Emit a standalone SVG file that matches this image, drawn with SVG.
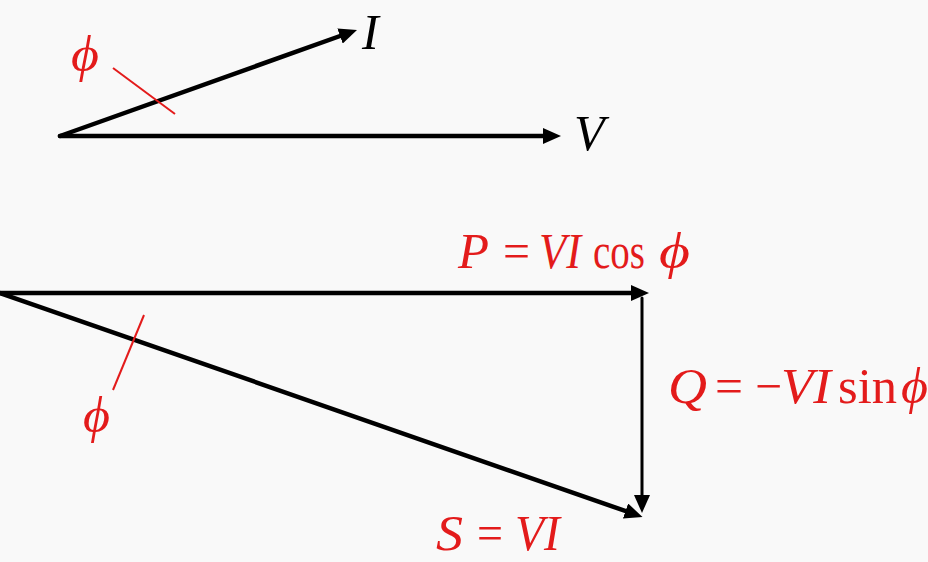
<svg xmlns="http://www.w3.org/2000/svg" width="928" height="562" viewBox="0 0 928 562">
  <style>
    .vec { stroke: #000; stroke-width: 4.5; fill: none; stroke-linecap: round; }
    .thin { stroke-width: 3; }
    .tick { stroke: #e31b1b; stroke-width: 2; fill: none; }
    .lbl { font-family: "Liberation Serif", "DejaVu Serif", serif; font-size: 50px; fill: #e31b1b; }
    .blk { fill: #000; }
    .it { font-style: italic; }
  </style>
  <defs>
    <marker id="ah" markerUnits="userSpaceOnUse" viewBox="0 0 18 16" refX="9" refY="8" markerWidth="18" markerHeight="16" orient="auto">
      <path d="M0,0 L18,8 L0,16 z" fill="#000"/>
    </marker>
  </defs>
  <rect width="928" height="562" fill="#f9f9f9"/>

  <g id="connectors">
    <line class="vec" x1="60" y1="136" x2="348.5" y2="33" marker-end="url(#ah)"/>
    <line class="vec" x1="60" y1="136" x2="552" y2="136" marker-end="url(#ah)"/>
    <line class="vec" x1="0" y1="293" x2="640" y2="293" marker-end="url(#ah)"/>
    <line class="vec" x1="0" y1="293" x2="634" y2="514" marker-end="url(#ah)"/>
    <line class="vec thin" x1="642" y1="298" x2="642" y2="504" marker-end="url(#ah)"/>
    <line class="tick" x1="113" y1="68" x2="175" y2="114"/>
    <line class="tick" x1="144" y1="315" x2="113" y2="390"/>
  </g>

  <g id="label-I">
    <text class="lbl blk it" x="362" y="49">I</text>
  </g>
  <g id="label-V">
    <text class="lbl blk it" x="574" y="150">V</text>
  </g>
  <g id="label-phi-top">
    <text class="lbl it" x="71" y="71" textLength="28" lengthAdjust="spacingAndGlyphs">ϕ</text>
  </g>
  <g id="label-phi-bottom">
    <text class="lbl it" x="83" y="432" textLength="27" lengthAdjust="spacingAndGlyphs">ϕ</text>
  </g>
  <g id="label-P">
    <text class="lbl it" x="458" y="268" textLength="31" lengthAdjust="spacingAndGlyphs">P</text>
    <text class="lbl" x="503" y="268" textLength="27" lengthAdjust="spacingAndGlyphs">=</text>
    <text class="lbl it" x="539" y="268" textLength="42" lengthAdjust="spacingAndGlyphs">VI</text>
    <text class="lbl" x="593" y="268" textLength="52" lengthAdjust="spacingAndGlyphs">cos</text>
    <text class="lbl it" x="659" y="268" textLength="31" lengthAdjust="spacingAndGlyphs">ϕ</text>
  </g>
  <g id="label-Q">
    <text class="lbl it" x="668" y="403" textLength="39" lengthAdjust="spacingAndGlyphs">Q</text>
    <text class="lbl" x="715" y="403" textLength="28" lengthAdjust="spacingAndGlyphs">=</text>
    <text class="lbl" x="755" y="403" textLength="27" lengthAdjust="spacingAndGlyphs">−</text>
    <text class="lbl it" x="781" y="403" textLength="50" lengthAdjust="spacingAndGlyphs">VI</text>
    <text class="lbl" x="838" y="403" textLength="59" lengthAdjust="spacingAndGlyphs">sin</text>
    <text class="lbl it" x="901" y="403" textLength="27" lengthAdjust="spacingAndGlyphs">ϕ</text>
  </g>
  <g id="label-S">
    <text class="lbl it" x="436" y="550" textLength="27" lengthAdjust="spacingAndGlyphs">S</text>
    <text class="lbl" x="477" y="550" textLength="26" lengthAdjust="spacingAndGlyphs">=</text>
    <text class="lbl it" x="515" y="550" textLength="45" lengthAdjust="spacingAndGlyphs">VI</text>
  </g>
</svg>
